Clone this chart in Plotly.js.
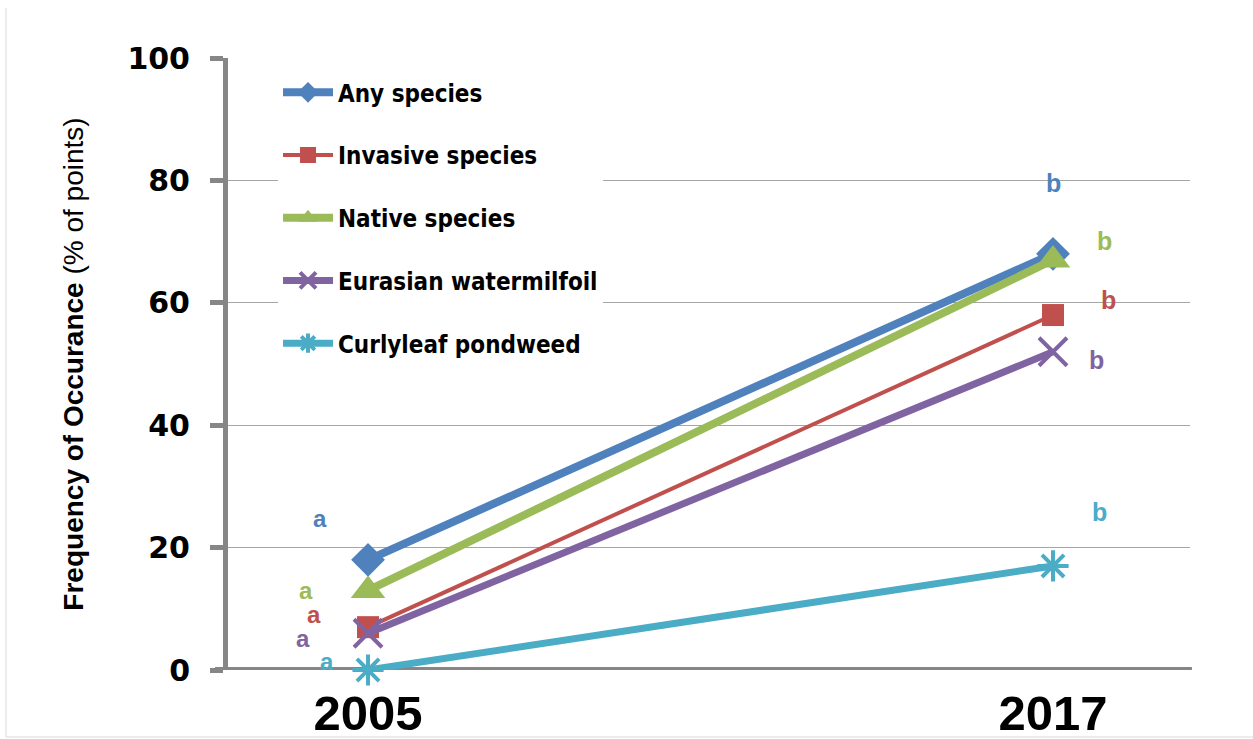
<!DOCTYPE html>
<html>
<head>
<meta charset="utf-8">
<script src="https://cdn.plot.ly/plotly-3.0.1.min.js"></script>
<style>html,body{margin:0;padding:0;background:#fff;}#chart{width:1253px;height:739px;}</style>
</head>
<body>
<div id="chart"></div>
<script>
// ---- data ----
const years = [2005, 2017];
const seriesNames = ["Any species", "Invasive species", "Native species", "Eurasian watermilfoil", "Curlyleaf pondweed"];
const anySpecies = [18, 68];
const invasiveSpecies = [7, 58];
const nativeSpecies = [13, 67];
const eurasianWatermilfoil = [6, 52];
const curlyleafPondweed = [0, 17];
const letters2005 = ["a", "a", "a", "a", "a"];
const letters2017 = ["b", "b", "b", "b", "b"];
const yTicks = [0, 20, 40, 60, 80, 100];

// ---- styles ----
const values = [anySpecies, invasiveSpecies, nativeSpecies, eurasianWatermilfoil, curlyleafPondweed];
const colors = ["#4F81BD", "#C0504D", "#9BBB59", "#8064A2", "#4BACC6"];
const lineWidths = [8, 4, 8, 7, 7];
const symbols = ["diamond", "square", "triangle-up", "x-thin-open", "asterisk-open"];
const sizes = [26, 22, 30, 28, 26];
const mLineWidths = [0, 0, 0, 4, 4];
// label offsets in pixels relative to the point [xshift, yshift]
const off2005 = [[-48, 41], [-54, 13], [-62, 0], [-65, -5], [-41, 9]];
const off2017 = [[0, 71], [55, 15], [51, 19], [43, -8], [46, 54]];

const traces = values.map((v, i) => ({
  type: "scatter",
  mode: "lines+markers",
  x: years,
  y: v,
  name: seriesNames[i],
  legendgroup: "g" + i,
  cliponaxis: false,
  line: {color: colors[i], width: lineWidths[i]},
  marker: {symbol: symbols[i], size: sizes[i], color: colors[i],
           line: {color: colors[i], width: mLineWidths[i]}}
}));

const annotations = [];
values.forEach((v, i) => {
  annotations.push({x: years[0], y: v[0], xref: "x", yref: "y", text: "<b>" + letters2005[i] + "</b>",
    showarrow: false, xshift: off2005[i][0], yshift: off2005[i][1],
    font: {family: "Liberation Sans, Arial, sans-serif", size: 24, color: colors[i]}});
  annotations.push({x: years[1], y: v[1], xref: "x", yref: "y", text: "<b>" + letters2017[i] + "</b>",
    showarrow: false, xshift: off2017[i][0], yshift: off2017[i][1],
    font: {family: "Liberation Sans, Arial, sans-serif", size: 25, color: colors[i]}});
});

const layout = {
  width: 1253, height: 739,
  margin: {l: 228, r: 63, t: 58, b: 69},
  paper_bgcolor: "#ffffff",
  plot_bgcolor: "#ffffff",
  showlegend: true,
  legend: {
    x: 0.052, y: 0.98, xanchor: "left", yanchor: "top",
    bgcolor: "#ffffff", borderwidth: 0,
    traceorder: "grouped", tracegroupgap: 28.5,
    itemwidth: 50,
    font: {family: "DejaVu Sans Condensed, DejaVu Sans, sans-serif", size: 24, color: "#000", weight: "bold"}
  },
  xaxis: {
    type: "linear",
    range: [2002.547, 2019.40],
    tickvals: years,
    ticktext: years.map(String),
    showgrid: false, zeroline: false,
    showline: false,
    ticks: "",
    tickfont: {family: "Liberation Sans, Arial, sans-serif", size: 49, color: "#000", weight: "bold"},
    ticklabelstandoff: 10,
    fixedrange: true
  },
  yaxis: {
    range: [0, 100],
    tickvals: yTicks,
    showgrid: true, gridcolor: "#a6a6a6", gridwidth: 1.3,
    zeroline: false,
    showline: true, linecolor: "#868686", linewidth: 5,
    ticks: "outside", ticklen: 13, tickwidth: 5, tickcolor: "#868686",
    tickfont: {family: "DejaVu Sans, sans-serif", size: 30, color: "#000", weight: "bold"},
    ticklabelstandoff: 14,
    title: {text: "<b>Frequency of Occurance</b> (% of points)", standoff: 37,
      font: {family: "Liberation Sans, Arial, sans-serif", size: 28, color: "#000"}},
    automargin: false,
    fixedrange: true
  },
  shapes: [
    // x axis baseline
    {type: "line", xref: "paper", yref: "y", x0: -0.0135, x1: 1.002, y0: 0, y1: 0,
     line: {color: "#868686", width: 6}, layer: "below"},
    // outer frame
    {type: "line", xref: "paper", yref: "paper", x0: -0.2308, x1: -0.2308, y0: -0.1095, y1: 1.0817,
     line: {color: "#d9d9d9", width: 1}},
    {type: "line", xref: "paper", yref: "paper", x0: -0.2308, x1: 1.0655, y0: -0.1095, y1: -0.1095,
     line: {color: "#d9d9d9", width: 1}}
  ],
  annotations: annotations
};

Plotly.newPlot("chart", traces, layout, {displayModeBar: false, staticPlot: true});
</script>
</body>
</html>
